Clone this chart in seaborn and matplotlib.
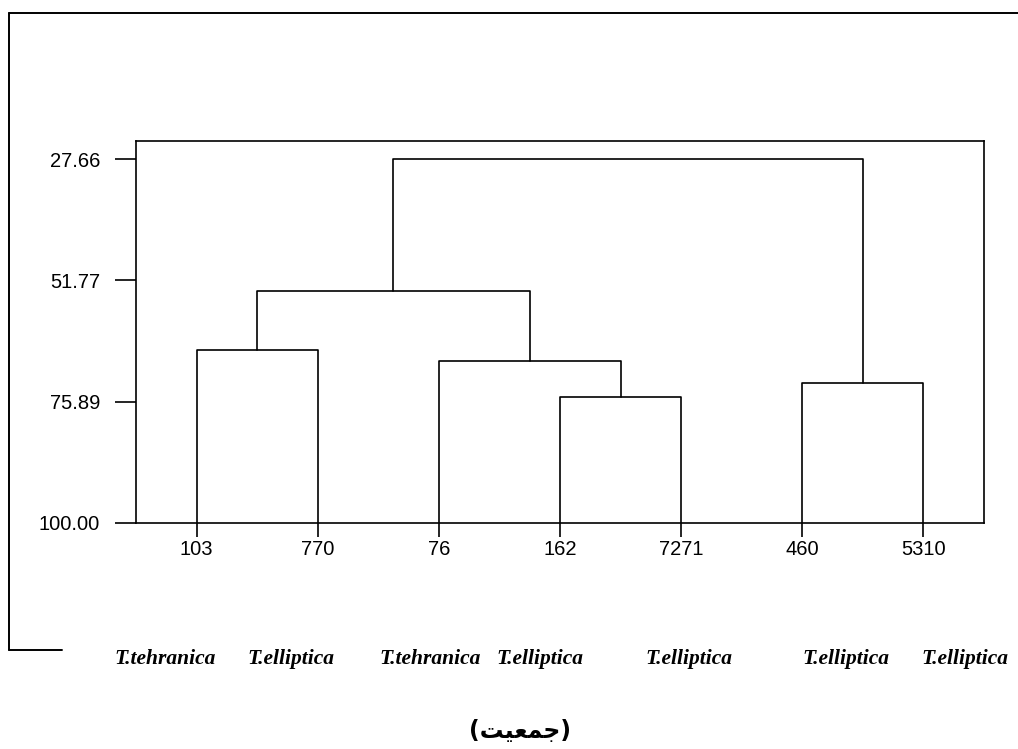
import numpy as np
import pandas as pd
import matplotlib.pyplot as plt
import matplotlib.lines as mlines
import seaborn as sns

# leaves of the dendrogram (left to right) and their species
leaves = ['103', '770', '76', '162', '7271', '460', '5310']
species = ['T.tehranica', 'T.elliptica', 'T.tehranica', 'T.elliptica',
           'T.elliptica', 'T.elliptica', 'T.elliptica']

# merges: ids < 7 are leaves, ids >= 7 are earlier merges
merge_left = [0, 3, 2, 7, 5, 10]
merge_right = [1, 4, 8, 9, 6, 11]
similarity = [65.61, 74.89, 67.73, 53.82, 72.10, 27.66]

ytick_vals = [27.66, 51.77, 75.89, 100.00]

# "(جمعیت)" written with arabic presentation forms, in visual order
group_label = '(' + '\ufe96\ufef4\ufecc\ufee4\ufe9f' + ')'

W, H = 1018, 749
species_px = [165, 291, 430, 540, 689, 846, 965]

sns.set_style('ticks')
plt.rcParams['font.family'] = ['Liberation Sans', 'DejaVu Sans']
plt.rcParams['text.color'] = 'black'
plt.rcParams['xtick.color'] = 'black'
plt.rcParams['ytick.color'] = 'black'

# build the U shaped links
n = len(leaves)
node_x = list(range(n))
node_h = [100.0] * n
rows = []
for k, (a, b, s) in enumerate(zip(merge_left, merge_right, similarity)):
    xa, xb = node_x[a], node_x[b]
    ha, hb = node_h[a], node_h[b]
    for px, py in [(xa, ha), (xa, s), (xb, s), (xb, hb)]:
        rows.append({'link': k, 'x': px, 'y': py})
    node_x.append((xa + xb) / 2)
    node_h.append(s)
df = pd.DataFrame(rows)

fig = plt.figure(figsize=(W / 100, H / 100), dpi=100)
ax = fig.add_axes([136 / W, 1 - 523 / H, (984 - 136) / W, (523 - 141) / H])

sns.lineplot(data=df, x='x', y='y', units='link', estimator=None, sort=False,
             color='black', lw=1.2, ax=ax, legend=False)

ax.set_xlim(-0.5, n - 0.5)
ax.set_ylim(100, 24.08)
ax.set_xticks(range(n))
ax.set_xticklabels(leaves)
ax.set_yticks(ytick_vals)
ax.set_yticklabels(['%.2f' % v for v in ytick_vals])
ax.set_xlabel('')
ax.set_ylabel('')
for sp in ax.spines.values():
    sp.set_visible(True)
    sp.set_color('black')
    sp.set_linewidth(1.2)
ax.tick_params(axis='y', left=True, length=15, width=1.2, pad=11, labelsize=14.5)
ax.tick_params(axis='x', bottom=True, length=10, width=1.2, pad=2, labelsize=14.5)

# species names under the plot
for name, px in zip(species, species_px):
    fig.text(px / W, 1 - 659 / H, name, ha='center', va='center',
             family='Liberation Serif', style='italic', weight='bold', fontsize=15.5)

fig.text(520 / W, 1 - 731 / H, group_label, ha='center', va='center',
         family='DejaVu Sans', weight='bold', fontsize=17)

# partial outer frame
x0, y0 = 8.5 / W, 1 - 13.3 / H
yb = 1 - 650 / H
for xs, ys in [([x0, 1.0], [y0, y0]), ([x0, x0], [y0, yb]), ([x0, 62 / W], [yb, yb])]:
    fig.add_artist(mlines.Line2D(xs, ys, transform=fig.transFigure,
                                 color='black', lw=1.4))

fig.savefig('out.png', dpi=100)
